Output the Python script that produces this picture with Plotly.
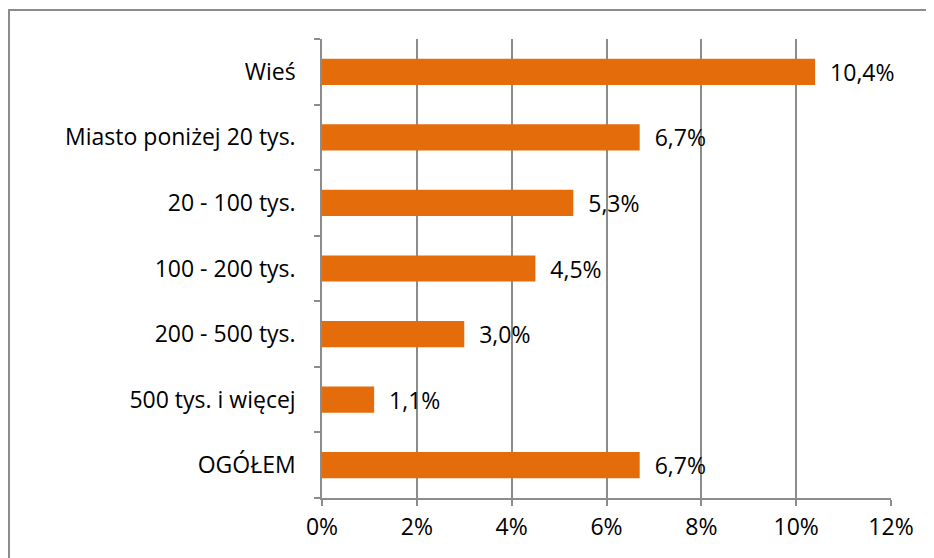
import plotly.graph_objects as go

categories = ["Wieś", "Miasto poniżej 20 tys.", "20 - 100 tys.", "100 - 200 tys.",
              "200 - 500 tys.", "500 tys. i więcej", "OGÓŁEM"]
values = [10.4, 6.7, 5.3, 4.5, 3.0, 1.1, 6.7]
x_ticks = [0, 2, 4, 6, 8, 10, 12]
x_tick_labels = ["0%", "2%", "4%", "6%", "8%", "10%", "12%"]

labels = ["  " + f"{v:.1f}".replace(".", ",") + "%" for v in values]

W, H = 934, 558
OFF = 8  # page body margin
L, T = 322 - OFF, 39 - OFF
R = W - (891 - OFF)
B = H - (498 - OFF)
pw, ph = W - L - R, H - T - B

FONT = "Open Sans"
FS = 23
GRID = "#8C8C8C"

fig = go.Figure(go.Bar(
    x=values, y=categories, orientation="h",
    marker=dict(color="#E46C0A", line=dict(width=0)),
    text=labels, textposition="outside", cliponaxis=False,
    constraintext="none",
    textfont=dict(size=FS, color="black", family=FONT),
))

fig.update_layout(
    width=W, height=H,
    margin=dict(l=L, r=R, t=T, b=B),
    paper_bgcolor="white", plot_bgcolor="white",
    bargap=0.6, showlegend=False,
    font=dict(family=FONT, size=FS, color="black"),
    xaxis=dict(range=[0, 12], tickvals=x_ticks, ticktext=x_tick_labels,
               showgrid=True, gridcolor=GRID, gridwidth=1.5,
               showline=True, linecolor=GRID, linewidth=1.5,
               ticks="outside", ticklen=6, tickcolor=GRID, tickwidth=1.5,
               zeroline=False, tickfont=dict(size=FS), ticklabelstandoff=2),
    yaxis=dict(categoryorder="array", categoryarray=categories[::-1],
               showgrid=False, showline=True, linecolor=GRID, linewidth=1.5,
               ticks="outside", ticklen=6, tickcolor=GRID, tickwidth=1.5,
               tickson="boundaries", ticklabelstandoff=20,
               tickfont=dict(size=FS)),
)

# outer chart border
bx0, by0 = 9 - OFF, 10 - OFF
fig.add_shape(type="rect", xref="paper", yref="paper",
              x0=(bx0 - L) / pw, x1=(W + 10 - L) / pw,
              y0=-(B + 10) / ph, y1=(H - by0 - B) / ph,
              line=dict(color=GRID, width=2), layer="below")

fig.write_html("out.html")
